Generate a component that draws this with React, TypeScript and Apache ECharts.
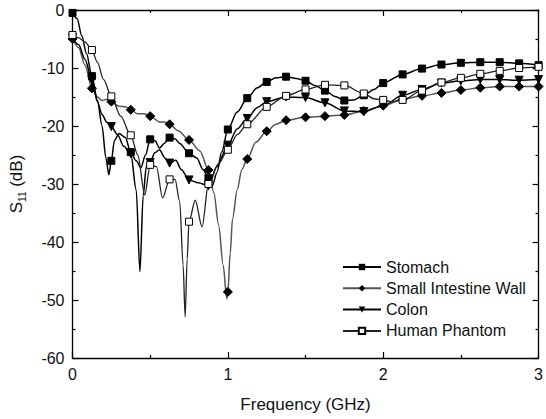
import React, { useEffect, useRef } from "react";
import * as echarts from "echarts";

// Frequency (GHz) and S11 (dB) values
const stomachFreq = [0, 0.03, 0.06, 0.09, 0.125, 0.16, 0.19, 0.215, 0.234, 0.25, 0.27, 0.3, 0.34, 0.375, 0.41, 0.44, 0.47, 0.5, 0.53, 0.56, 0.59, 0.625, 0.66, 0.69, 0.75, 0.8, 0.84, 0.875, 0.9, 0.93, 0.96, 1.0, 1.06, 1.125, 1.19, 1.25, 1.31, 1.375, 1.44, 1.5, 1.56, 1.625, 1.69, 1.75, 1.81, 1.875, 1.94, 2.0, 2.125, 2.25, 2.375, 2.5, 2.625, 2.75, 2.875, 3.0];
const stomachS11 = [-0.5, -1.5, -4.5, -7.5, -11.4, -15.5, -20, -25.5, -28.4, -26, -22.5, -21.3, -22, -24.5, -26, -27.2, -25, -22.3, -22.5, -23.8, -23, -22, -22.2, -23, -24.7, -25.5, -27.5, -29, -30.3, -28, -24.5, -20.6, -17.6, -15.2, -13.4, -12.4, -11.7, -11.5, -11.8, -12.2, -13, -13.9, -14.9, -15.6, -15.5, -14.7, -13.7, -12.6, -11.1, -10.1, -9.4, -9.1, -9.0, -9.0, -9.2, -9.5];

const intestineFreq = [0, 0.04, 0.08, 0.125, 0.16, 0.19, 0.22, 0.25, 0.3, 0.34, 0.375, 0.42, 0.46, 0.5, 0.56, 0.59, 0.625, 0.68, 0.75, 0.82, 0.875, 0.91, 0.94, 0.97, 0.993, 1.0, 1.015, 1.03, 1.06, 1.09, 1.125, 1.18, 1.25, 1.31, 1.375, 1.5, 1.625, 1.75, 1.875, 2.0, 2.125, 2.25, 2.375, 2.5, 2.625, 2.75, 2.875, 3.0];
const intestineS11 = [-5, -6.5, -9.5, -13.5, -15, -15.6, -15.4, -15.8, -16.6, -16.7, -17.2, -17.9, -17.9, -18.3, -19.3, -19.3, -19.7, -20.8, -22.4, -24.3, -27.6, -31.5, -37, -44, -49.8, -48.6, -42, -36, -31, -27.5, -25.7, -22.8, -20.9, -19.7, -19.0, -18.5, -18.3, -18.1, -17.4, -16.5, -15.4, -14.8, -14.3, -13.8, -13.4, -13.2, -13.2, -13.2];

const colonFreq = [0, 0.04, 0.08, 0.125, 0.16, 0.19, 0.22, 0.25, 0.29, 0.33, 0.375, 0.41, 0.434, 0.455, 0.475, 0.5, 0.53, 0.56, 0.595, 0.625, 0.665, 0.7, 0.75, 0.81, 0.875, 0.93, 1.0, 1.06, 1.125, 1.19, 1.25, 1.375, 1.5, 1.625, 1.75, 1.875, 2.0, 2.125, 2.25, 2.375, 2.5, 2.625, 2.75, 2.875, 3.0];
const colonS11 = [-4.8, -6, -8.5, -12.1, -15.8, -18, -19.3, -20.1, -21.5, -23.5, -24.8, -31, -45.1, -32, -27, -26.3, -24.6, -24.1, -25.5, -26.4, -25.9, -27.5, -29.3, -29.8, -30.3, -27, -23.3, -20.5, -18.7, -16.8, -15.8, -15.0, -15.1, -16.0, -17.4, -17.5, -16.5, -14.7, -13.7, -12.6, -12.2, -12.0, -12.0, -12.1, -12.0];

const phantomFreq = [0, 0.04, 0.08, 0.125, 0.16, 0.2, 0.25, 0.31, 0.375, 0.42, 0.465, 0.5, 0.54, 0.58, 0.625, 0.66, 0.69, 0.712, 0.725, 0.738, 0.75, 0.79, 0.834, 0.875, 0.94, 1.0, 1.06, 1.125, 1.25, 1.375, 1.5, 1.625, 1.75, 1.875, 1.94, 2.0, 2.06, 2.125, 2.25, 2.375, 2.5, 2.625, 2.75, 2.875, 3.0];
const phantomS11 = [-4.3, -4.8, -5.5, -6.9, -9, -12, -14.9, -18.3, -21.6, -25, -31.9, -26.7, -27, -32.4, -29.2, -29.2, -33, -44, -52.9, -43, -36.5, -32.8, -37.4, -30, -26.5, -24.1, -21.5, -19.7, -16.7, -14.8, -13.7, -12.9, -13.0, -14.4, -15.3, -15.5, -15.8, -15.5, -13.9, -12.5, -11.7, -11.0, -10.5, -10.0, -9.8];

const seriesNames = ["Stomach", "Small Intestine Wall", "Colon", "Human Phantom"];
const xTicks = [0, 1, 2, 3];
const yTicks = [-60, -50, -40, -30, -20, -10, 0];

const FONT = "'Liberation Sans', Arial, sans-serif";

function buildData(freq: number[], vals: number[]) {
  return freq.map((f, i) => {
    const isMarker = Math.abs(f * 8 - Math.round(f * 8)) < 1e-6;
    return isMarker ? { value: [f, vals[i]] } : { value: [f, vals[i]], symbol: "none" };
  });
}

export default function App() {
  const ref = useRef<HTMLDivElement>(null);
  useEffect(() => {
    if (!ref.current) return;
    const chart = echarts.init(ref.current, undefined, { renderer: "svg" });
    const tickStyle = { show: true, inside: true, length: 6, lineStyle: { color: "#000", width: 1.2 } };
    const minorStyle = { show: true, splitNumber: 2, length: 3, lineStyle: { color: "#000", width: 1.2 } };
    const axisLine = { show: true, onZero: false, lineStyle: { color: "#000", width: 1.3 } };
    const common = (smoothVal: number) => ({
      type: "line" as const,
      smooth: smoothVal,
      smoothMonotone: "x" as const,
      symbolSize: 7,
      showAllSymbol: true,
    });
    chart.setOption({
      animation: false,
      backgroundColor: "#fff",
      grid: { left: 68, right: 3, top: 10, bottom: 61 },
      legend: {
        orient: "vertical",
        left: 337,
        top: 254,
        itemWidth: 38,
        itemHeight: 8,
        itemGap: 5.3,
        data: seriesNames,
        textStyle: { fontFamily: FONT, fontSize: 16, color: "#111", lineHeight: 16 },
      },
      xAxis: [
        {
          type: "value",
          min: xTicks[0],
          max: xTicks[xTicks.length - 1],
          interval: 1,
          position: "bottom",
          axisLine,
          axisTick: tickStyle,
          minorTick: minorStyle,
          splitLine: { show: false },
          axisLabel: { fontFamily: FONT, fontSize: 16, color: "#111", margin: 8 },
          name: "Frequency (GHz)",
          nameLocation: "middle",
          nameGap: 38,
          nameTextStyle: { fontFamily: FONT, fontSize: 17, color: "#111" },
        },
        {
          type: "value",
          min: xTicks[0],
          max: xTicks[xTicks.length - 1],
          interval: 1,
          position: "top",
          axisLine,
          axisTick: tickStyle,
          minorTick: minorStyle,
          splitLine: { show: false },
          axisLabel: { show: false },
        },
      ],
      yAxis: [
        {
          type: "value",
          min: yTicks[0],
          max: yTicks[yTicks.length - 1],
          interval: 10,
          position: "left",
          axisLine,
          axisTick: tickStyle,
          minorTick: minorStyle,
          splitLine: { show: false },
          axisLabel: { fontFamily: FONT, fontSize: 16, color: "#111", margin: 8 },
          name: "{a|S}{b|11}{a| (dB)}",
          nameLocation: "middle",
          nameGap: 45,
          nameTextStyle: {
            fontFamily: FONT,
            color: "#111",
            rich: {
              a: { fontFamily: FONT, fontSize: 17, color: "#111" },
              b: { fontFamily: FONT, fontSize: 10, color: "#111", padding: [12, 0, 0, 0] },
            },
          },
        },
        {
          type: "value",
          min: yTicks[0],
          max: yTicks[yTicks.length - 1],
          interval: 10,
          position: "right",
          axisLine,
          axisTick: tickStyle,
          minorTick: minorStyle,
          splitLine: { show: false },
          axisLabel: { show: false },
        },
      ],
      series: [
        {
          ...common(0.3),
          name: "Small Intestine Wall",
          data: buildData(intestineFreq, intestineS11),
          symbol: "diamond",
          symbolSize: 9,
          lineStyle: { color: "#555", width: 1.5 },
          itemStyle: { color: "#000", borderColor: "#000" },
        },
        {
          ...common(0.3),
          name: "Colon",
          data: buildData(colonFreq, colonS11),
          symbol: "path://M0,0 L10,0 L5,9 Z",
          symbolSize: 8,
          lineStyle: { color: "#000", width: 1.5 },
          itemStyle: { color: "#000", borderColor: "#000" },
        },
        {
          ...common(0.3),
          name: "Stomach",
          data: buildData(stomachFreq, stomachS11),
          symbol: "rect",
          symbolSize: 7,
          lineStyle: { color: "#000", width: 1.5 },
          itemStyle: { color: "#000", borderColor: "#000" },
        },
        {
          ...common(0.3),
          name: "Human Phantom",
          data: buildData(phantomFreq, phantomS11),
          symbol: "rect",
          symbolSize: 7,
          lineStyle: { color: "#222", width: 1.3 },
          itemStyle: { color: "#fff", borderColor: "#000", borderWidth: 1 },
        },
      ],
    });
    return () => chart.dispose();
  }, []);
  return (
    <div
      ref={ref}
      style={{ position: "absolute", left: 0, top: 0, width: 546, height: 419 }}
    />
  );
}
